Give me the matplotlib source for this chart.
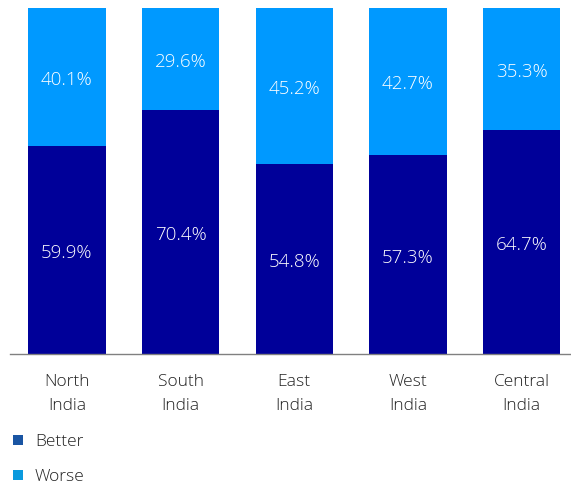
import matplotlib
matplotlib.use("Agg")
import matplotlib.pyplot as plt
from matplotlib.patches import Rectangle

regions = ["North\nIndia", "South\nIndia", "East\nIndia", "West\nIndia", "Central\nIndia"]
better = [59.9, 70.4, 54.8, 57.3, 64.7]
worse = [40.1, 29.6, 45.2, 42.7, 35.3]
series_names = ["Better", "Worse"]

dark = "#000099"
light = "#0099ff"

plt.rcParams["font.family"] = ["Open Sans", "DejaVu Sans"]
plt.rcParams["font.weight"] = "light"

fig = plt.figure(figsize=(5.71, 4.89), dpi=100)
W, H = 571, 489
left_px, right_px = 10, 578.5
top_px, bottom_px = 8.5, 355
ax = fig.add_axes([left_px / W, 1 - bottom_px / H, (right_px - left_px) / W, (bottom_px - top_px) / H])

x = list(range(len(regions)))
bw = 0.68
ax.bar(x, better, width=bw, color=dark, linewidth=0)
ax.bar(x, worse, width=bw, bottom=better, color=light, linewidth=0)

for i in x:
    ax.text(i, better[i] / 2, f"{better[i]:.1f}%", ha="center", va="center_baseline",
            color="white", fontsize=13.5, fontweight="light")
    ax.text(i, better[i] + worse[i] / 2, f"{worse[i]:.1f}%", ha="center", va="center_baseline",
            color="white", fontsize=13.5, fontweight="light")

ax.set_xlim(-0.5, len(regions) - 0.5)
ax.set_ylim(0, 100)
for s in ["top", "right", "left"]:
    ax.spines[s].set_visible(False)
ax.spines["bottom"].set_color("#808080")
ax.spines["bottom"].set_linewidth(1)
ax.set_yticks([])
ax.set_xticks(x)
ax.set_xticklabels(regions, fontsize=12.5, color="#222222", linespacing=1.68, fontweight="light")
ax.tick_params(axis="x", length=0, pad=13.5)

# legend drawn in figure pixel coordinates
leg_colors = ["#1a55a3", "#0a9ade"]
for name, col, yc in zip(series_names, leg_colors, [442, 477]):
    fig.patches.append(Rectangle((13 / W, 1 - (yc + 4) / H), 10 / W, 10 / H,
                                 transform=fig.transFigure, color=col, linewidth=0))
    fig.text(35 / W, 1 - yc / H, name, ha="left", va="center", fontsize=12.5,
             color="#222222", fontweight="light")

fig.savefig("out.png", dpi=100)
